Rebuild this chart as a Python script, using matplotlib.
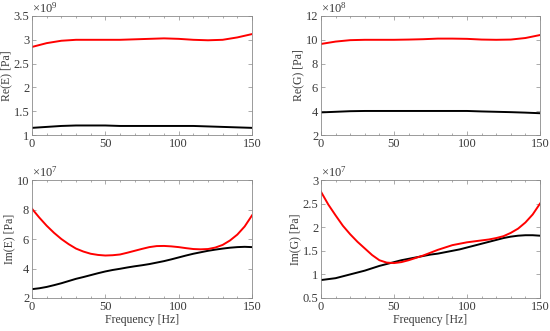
import numpy as np
import matplotlib
matplotlib.use('Agg')
import matplotlib.pyplot as plt
from matplotlib.ticker import AutoMinorLocator

plt.rcParams['font.family'] = ['Liberation Serif', 'DejaVu Serif']
plt.rcParams['mathtext.fontset'] = 'custom'
plt.rcParams['mathtext.rm'] = 'Liberation Serif'
plt.rcParams['mathtext.it'] = 'Liberation Serif:italic'
plt.rcParams['font.size'] = 9

freq = [0, 10, 20, 30, 40, 50, 60, 70, 80, 90, 100, 110, 120, 130, 140, 150]
freq5 = list(range(0, 155, 5))

# Re(E) x1e9
re_e_red = [2.85, 2.93, 2.98, 3.00, 3.00, 3.00, 3.00, 3.01, 3.02, 3.03, 3.02, 3.00, 2.99, 3.00, 3.05, 3.12]
re_e_blk = [1.15, 1.17, 1.19, 1.20, 1.20, 1.20, 1.19, 1.19, 1.19, 1.19, 1.19, 1.19, 1.18, 1.17, 1.16, 1.15]
# Re(G) x1e8
re_g_red = [9.65, 9.85, 9.97, 10.0, 10.0, 10.0, 10.02, 10.05, 10.1, 10.1, 10.08, 10.02, 10.0, 10.02, 10.15, 10.4]
re_g_blk = [3.90, 3.95, 4.00, 4.02, 4.02, 4.02, 4.02, 4.02, 4.02, 4.02, 4.02, 3.98, 3.95, 3.92, 3.88, 3.83]
# Im(E) x1e7 (every 5 Hz)
im_e_red = [8.05, 7.45, 6.9, 6.42, 6.0, 5.65, 5.35, 5.15, 5.0, 4.92, 4.88, 4.9, 4.95, 5.07,
            5.2, 5.33, 5.45, 5.52, 5.53, 5.5, 5.45, 5.38, 5.32, 5.3, 5.32, 5.42, 5.6, 5.9,
            6.3, 6.85, 7.6]
im_e_blk = [2.6, 2.66, 2.75, 2.87, 3.0, 3.15, 3.3, 3.42, 3.55, 3.68, 3.8, 3.9, 3.98, 4.07,
            4.15, 4.22, 4.3, 4.4, 4.5, 4.62, 4.75, 4.88, 5.0, 5.1, 5.2, 5.28, 5.35, 5.41,
            5.45, 5.47, 5.45]
# Im(G) x1e7 (every 5 Hz)
im_g_red = [2.75, 2.48, 2.25, 2.03, 1.85, 1.69, 1.55, 1.41, 1.3, 1.25, 1.24, 1.26, 1.3, 1.35,
            1.4, 1.46, 1.52, 1.57, 1.62, 1.65, 1.68, 1.7, 1.72, 1.74, 1.77, 1.81, 1.88, 1.97,
            2.1, 2.27, 2.5]
im_g_blk = [0.88, 0.9, 0.92, 0.96, 1.0, 1.04, 1.08, 1.13, 1.18, 1.22, 1.26, 1.3, 1.33, 1.36,
            1.39, 1.42, 1.44, 1.47, 1.5, 1.53, 1.57, 1.61, 1.65, 1.69, 1.73, 1.77, 1.8, 1.82,
            1.83, 1.83, 1.82]

panels = [
    (freq, re_e_red, re_e_blk, 'Re(E) [Pa]', 9, (1, 3.5), [1, 1.5, 2, 2.5, 3, 3.5], ['1', '1.5', '2', '2.5', '3', '3.5']),
    (freq, re_g_red, re_g_blk, 'Re(G) [Pa]', 8, (2, 12), [2, 4, 6, 8, 10, 12], ['2', '4', '6', '8', '10', '12']),
    (freq5, im_e_red, im_e_blk, 'Im(E) [Pa]', 7, (2, 10), [2, 4, 6, 8, 10], ['2', '4', '6', '8', '10']),
    (freq5, im_g_red, im_g_blk, 'Im(G) [Pa]', 7, (0.5, 3), [0.5, 1, 1.5, 2, 2.5, 3], ['0.5', '1', '1.5', '2', '2.5', '3']),
]

# axes boxes in pixels: left, top, right, bottom
boxes = [(32, 16, 252, 135), (321, 16, 540, 135), (32, 180, 252, 298), (321, 180, 540, 298)]

W, H = 550, 331
fig = plt.figure(figsize=(W / 100, H / 100), dpi=100)
grey = '#3a3a3a'
edge = '#8a8a8a'

for i, (x, red, blk, ylab, expo, ylim, yt, ytl) in enumerate(panels):
    l, t, r, b = boxes[i]
    ax = fig.add_axes([l / W, 1 - b / H, (r - l) / W, (b - t) / H])
    ax.plot(x, blk, color='black', lw=1.4)
    ax.plot(x, red, color='#ff0000', lw=1.4)
    ax.set_xlim(0, 150)
    ax.set_ylim(*ylim)
    ax.set_xticks([0, 50, 100, 150])
    ax.set_yticks(yt)
    ax.set_yticklabels(ytl)
    ax.xaxis.set_minor_locator(AutoMinorLocator(5))
    ax.tick_params(which='both', direction='in', top=True, right=True, colors=edge,
                   labelcolor=grey, labelsize=9, pad=2)
    ax.tick_params(which='major', length=3, width=0.5)
    ax.tick_params(which='minor', length=1.5, width=0.5)
    for s in ax.spines.values():
        s.set_color(edge)
        s.set_linewidth(0.6)
    ax.set_ylabel(ylab, color=grey, fontsize=8.5, labelpad=1)
    if i >= 2:
        ax.set_xlabel('Frequency [Hz]', color=grey, fontsize=8.5, labelpad=1)
    ax.text(0.0, 1.0, r'$\times10^{%d}$' % expo, transform=ax.transAxes,
            ha='left', va='bottom', color=grey, fontsize=9)

fig.savefig('out.png', dpi=100)
